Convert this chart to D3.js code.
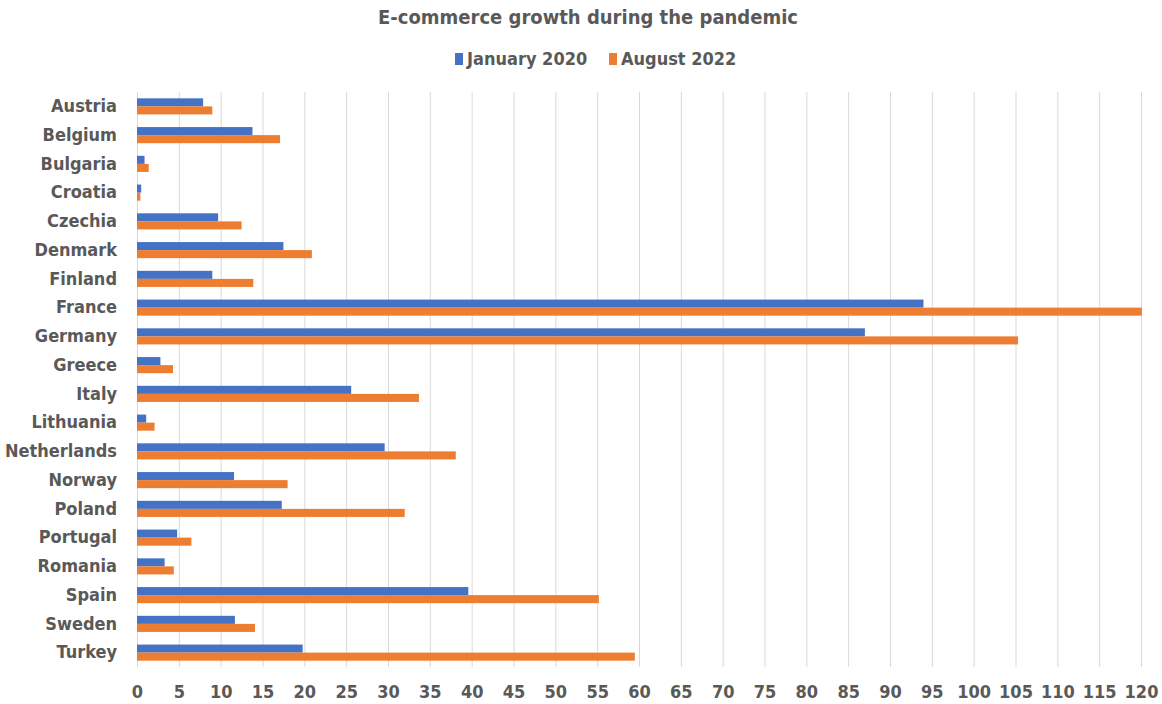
<!DOCTYPE html>
<html>
<head>
<meta charset="utf-8">
<script src="https://cdn.jsdelivr.net/npm/d3@7"></script>
<style>
  body { margin: 0; background: #fff; }
  text { font-family: "Liberation Sans Narrow", "DejaVu Sans Condensed", sans-serif; fill: #595959; }
</style>
</head>
<body>
<svg id="chart"></svg>
<script>
const width = 1162, height = 704;
const margin = { top: 92, right: 21, bottom: 37, left: 137 };

const countries = ["Austria", "Belgium", "Bulgaria", "Croatia", "Czechia", "Denmark", "Finland",
  "France", "Germany", "Greece", "Italy", "Lithuania", "Netherlands", "Norway", "Poland",
  "Portugal", "Romania", "Spain", "Sweden", "Turkey"];
const jan2020 = [7.9, 13.8, 0.9, 0.5, 9.7, 17.5, 9.0, 94.0, 87.0, 2.8, 25.6, 1.1, 29.6, 11.6, 17.3, 4.8, 3.3, 39.6, 11.7, 19.8];
const aug2022 = [9.0, 17.1, 1.4, 0.4, 12.5, 20.9, 13.9, 120.1, 105.3, 4.3, 33.7, 2.1, 38.1, 18.0, 32.0, 6.5, 4.4, 55.2, 14.1, 59.5];
const seriesNames = ["January 2020", "August 2022"];
const colors = ["#4472C4", "#ED7D31"];
const ticks = d3.range(0, 121, 5);

const svg = d3.select("#chart").attr("width", width).attr("height", height);

const innerW = width - margin.left - margin.right;
const innerH = height - margin.top - margin.bottom;

const xScale = d3.scaleLinear().domain([0, 120]).range([0, innerW]);
const yScale = d3.scaleBand().domain(countries).range([0, innerH]).paddingInner(0.44).paddingOuter(0.22);
const sub = d3.scaleBand().domain([0, 1]).range([0, yScale.bandwidth()]);

const g = svg.append("g").attr("transform", "translate(" + margin.left + "," + margin.top + ")");

// gridlines
g.append("g")
  .attr("class", "grid")
  .attr("transform", "translate(0," + innerH + ")")
  .call(d3.axisBottom(xScale).tickValues(ticks).tickSize(-innerH).tickFormat(""))
  .call(s => s.select(".domain").remove())
  .call(s => s.selectAll("line").attr("stroke", "#d9d9d9").attr("stroke-width", 1));

// bars
const rows = countries.map((c, i) => ({ c, vals: [jan2020[i], aug2022[i]] }));
g.selectAll(".row")
  .data(rows)
  .join("g")
  .attr("class", "row")
  .attr("transform", d => "translate(0," + yScale(d.c) + ")")
  .selectAll("rect")
  .data(d => d.vals.map((v, k) => ({ v, k })))
  .join("rect")
  .attr("x", xScale(0))
  .attr("y", d => sub(d.k))
  .attr("height", sub.bandwidth())
  .attr("width", d => xScale(d.v) - xScale(0))
  .attr("fill", d => colors[d.k]);

// y axis labels
const yAxis = g.append("g")
  .call(d3.axisLeft(yScale).tickSize(0).tickPadding(20));
yAxis.select(".domain").remove();
yAxis.selectAll("text")
  .style("font-size", "18px").style("font-weight", "bold")
  .attr("fill", "#595959");

// x axis labels
const xAxis = g.append("g")
  .attr("transform", "translate(0," + innerH + ")")
  .call(d3.axisBottom(xScale).tickValues(ticks).tickSize(0).tickPadding(18));
xAxis.select(".domain").remove();
xAxis.selectAll("text")
  .style("font-size", "18px").style("font-weight", "bold")
  .attr("fill", "#595959");

// title
svg.append("text")
  .attr("x", 588).attr("y", 24)
  .attr("text-anchor", "middle")
  .style("font-size", "20px").style("font-weight", "bold")
  .text("E-commerce growth during the pandemic");

// legend
const legend = svg.append("g").attr("transform", "translate(455,59)");
const items = legend.selectAll("g").data(seriesNames).join("g")
  .attr("transform", (d, i) => "translate(" + (i * 154) + ",0)");
items.append("rect").attr("x", 0).attr("y", -6).attr("width", 8).attr("height", 12)
  .attr("fill", (d, i) => colors[i]);
items.append("text").attr("x", 12).attr("y", 0).attr("dy", "0.35em")
  .style("font-size", "18px").style("font-weight", "bold")
  .text(d => d);
</script>
</body>
</html>
